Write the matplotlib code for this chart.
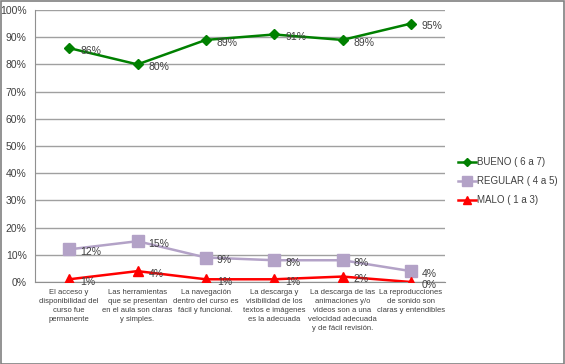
import matplotlib
matplotlib.use("Agg")
import matplotlib.pyplot as plt
from matplotlib.patches import Rectangle

categories = [
    "El acceso y\ndisponibilidad del\ncurso fue\npermanente",
    "Las herramientas\nque se presentan\nen el aula son claras\ny simples.",
    "La navegación\ndentro del curso es\nfácil y funcional.",
    "La descarga y\nvisibilidad de los\ntextos e imágenes\nes la adecuada",
    "La descarga de las\nanimaciones y/o\nvideos son a una\nvelocidad adecuada\ny de fácil revisión.",
    "La reproducciones\nde sonido son\nclaras y entendibles",
]
bueno = [86, 80, 89, 91, 89, 95]
regular = [12, 15, 9, 8, 8, 4]
malo = [1, 4, 1, 1, 2, 0]
series_names = ["BUENO ( 6 a 7)", "REGULAR ( 4 a 5)", "MALO ( 1 a 3)"]
yticks = list(range(0, 101, 10))

plt.rcParams['font.family'] = ['Liberation Sans', 'DejaVu Sans']

fig = plt.figure(figsize=(5.65, 3.64), dpi=100)
ax = fig.add_axes([35/565, 1-282/364, 410/565, 272/364])

x = list(range(len(categories)))
styles = [
    (bueno, "#008000", "D", 5),
    (regular, "#b3a2c7", "s", 8),
    (malo, "#ff0000", "^", 7),
]
for (vals, col, mk, ms), name in zip(styles, series_names):
    ax.plot(x, [v/100 for v in vals], color=col, marker=mk, markersize=ms,
            linewidth=1.8, label=name, zorder=3)
    for xi, v in zip(x, vals):
        ax.annotate(f"{v}%", (xi, v/100), xytext=(8, -2), textcoords="offset points",
                    ha="left", va="center", fontsize=7.5, color="#404040", zorder=4)

ax.set_xlim(-0.5, len(categories)-0.5)
ax.set_ylim(0, 1)
ax.set_yticks([t/100 for t in yticks])
ax.set_yticklabels([f"{t}%" for t in yticks], fontsize=7.5, color="#404040")
ax.set_xticks(x)
ax.set_xticklabels(categories, fontsize=5.5, color="#404040", linespacing=1.4)
ax.tick_params(axis="both", length=0, pad=5)
ax.tick_params(axis="y", pad=6)
ax.grid(axis="y", color="#a0a0a0", linewidth=1.0)
ax.set_axisbelow(True)
for s in ["top", "right"]:
    ax.spines[s].set_visible(False)
ax.spines["left"].set_color("#909090")
ax.spines["bottom"].set_color("#909090")

leg = fig.legend(loc="upper left", bbox_to_anchor=(458/565, 1-157/364), frameon=False,
                 fontsize=7, handlelength=1.9, handletextpad=0.1, labelspacing=0.95,
                 borderaxespad=0, borderpad=0, markerscale=0.85)
for t in leg.get_texts():
    t.set_color("#404040")

fig.patches.append(Rectangle((0.5/565, 0.5/364), 1-1.5/565, 1-1.5/364, transform=fig.transFigure,
                             fill=False, edgecolor="#808080", linewidth=1.2))
fig.savefig("out.png", dpi=100)
